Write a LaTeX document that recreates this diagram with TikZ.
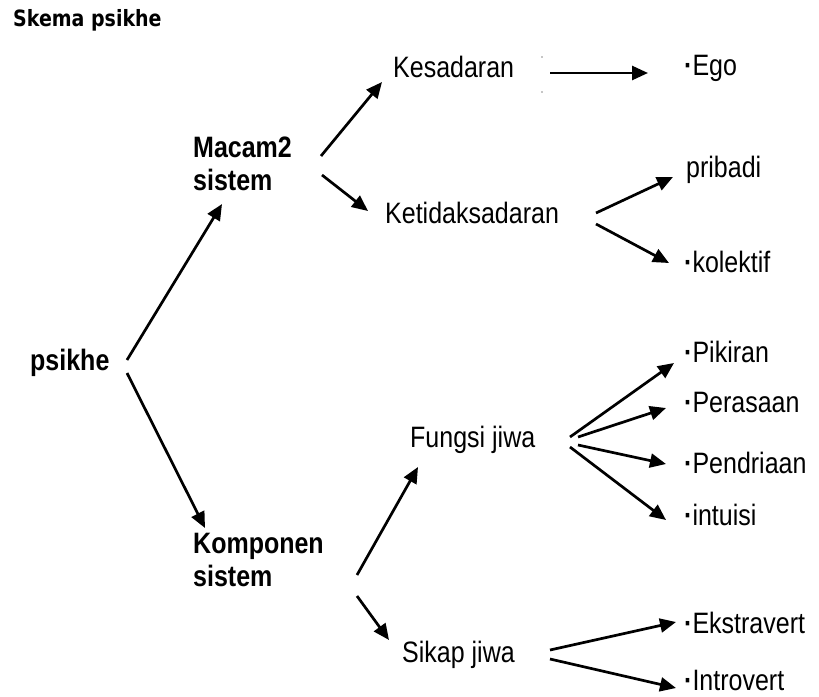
\documentclass[tikz,border=0pt]{standalone}
\usepackage{fontspec}
\setmainfont{Liberation Sans}
\newfontfamily\titlefont{DejaVu Sans}
\usetikzlibrary{arrows.meta}
\newcommand{\vs}[1]{\scalebox{1}[1.18]{#1}}
\newcommand{\bul}{{\bfseries ·}}
\newcommand{\twolines}[2]{\vtop{\baselineskip=33pt\hbox{\vs{#1}}\hbox{\vs{#2}}}}
\tikzset{
  lbl/.style={anchor=base west, inner sep=0pt, text=black, font=\fontsize{25pt}{30pt}\selectfont},
  blbl/.style={lbl, font=\fontsize{25pt}{30pt}\selectfont\bfseries},
  ttl/.style={anchor=base west, inner sep=0pt, text=black, font=\titlefont\bfseries\fontsize{19pt}{22pt}\selectfont},
  conn/.style={line width=2.7pt, -{Triangle[length=16pt,width=14pt]}},
  speck/.style={fill=black!45, draw=none}
}
\begin{document}
\begin{tikzpicture}[x=1pt,y=-1pt]
\useasboundingbox (0,0) rectangle (819,696);
% title
\node[ttl] (title) at (13,27) {\vs{Skema psikhe}};
% labels
\node[blbl] (psikhe) at (30,370) {\vs{psikhe}};
\node[blbl] (macam) at (193,157) {\twolines{Macam2}{sistem}};
\node[blbl] (komp) at (193,553) {\twolines{Komponen}{sistem}};
\node[lbl] (kesad) at (393,77) {\vs{Kesadaran}};
\node[lbl] (ketid) at (385,223) {\vs{Ketidaksadaran}};
\node[lbl] (fungsi) at (410,447) {\vs{Fungsi jiwa}};
\node[lbl] (sikap) at (402,662) {\vs{Sikap jiwa}};
\node[lbl] (ego) at (684,75) {\vs{\bul Ego}};
\node[lbl] (pribadi) at (686,177) {\vs{pribadi}};
\node[lbl] (kolektif) at (684,272) {\vs{\bul kolektif}};
\node[lbl] (pikiran) at (684,362) {\vs{\bul Pikiran}};
\node[lbl] (perasaan) at (684,412) {\vs{\bul Perasaan}};
\node[lbl] (pendriaan) at (684,473) {\vs{\bul Pendriaan}};
\node[lbl] (intuisi) at (684,525) {\vs{\bul intuisi}};
\node[lbl] (ekstra) at (684,633) {\vs{\bul Ekstravert}};
\node[lbl] (intro) at (684,690) {\vs{\bul Introvert}};
% connector end points
\coordinate (psA) at (127,360);
\coordinate (psB) at (127,373);
\coordinate (maT) at (222,204);
\coordinate (koT) at (205,528);
\coordinate (maA) at (321,156);
\coordinate (maB) at (322,175);
\coordinate (keT) at (382,82);
\coordinate (kdT) at (368,211);
\coordinate (keA) at (550,73);
\coordinate (egT) at (648,73);
\coordinate (kdA) at (596,213);
\coordinate (kdB) at (596,224);
\coordinate (prT) at (673,177);
\coordinate (klT) at (669,263);
\coordinate (koA) at (357,575);
\coordinate (koB) at (357,596);
\coordinate (fuT) at (418,467);
\coordinate (siT) at (389,640);
\coordinate (fuA) at (570,437);
\coordinate (fuB) at (578,437);
\coordinate (fuC) at (578,445);
\coordinate (fuD) at (570,447);
\coordinate (piT) at (674,363);
\coordinate (peT) at (666,408);
\coordinate (pnT) at (666,464);
\coordinate (inT) at (666,520);
\coordinate (siA) at (550,650);
\coordinate (siB) at (550,659);
\coordinate (ekT) at (676,622);
\coordinate (irT) at (676,688);
% connectors
\draw[conn] (psA) -- (maT);
\draw[conn] (psB) -- (koT);
\draw[conn] (maA) -- (keT);
\draw[conn] (maB) -- (kdT);
\draw[conn] (keA) -- (egT);
\draw[conn] (kdA) -- (prT);
\draw[conn] (kdB) -- (klT);
\draw[conn] (koA) -- (fuT);
\draw[conn] (koB) -- (siT);
\draw[conn] (fuA) -- (piT);
\draw[conn] (fuB) -- (peT);
\draw[conn] (fuC) -- (pnT);
\draw[conn] (fuD) -- (inT);
\draw[conn] (siA) -- (ekT);
\draw[conn] (siB) -- (irT);
% small specks near the Kesadaran arrow
\fill[speck] (542,57) circle (0.9);
\fill[speck] (542,92) circle (0.9);
\end{tikzpicture}
\end{document}
